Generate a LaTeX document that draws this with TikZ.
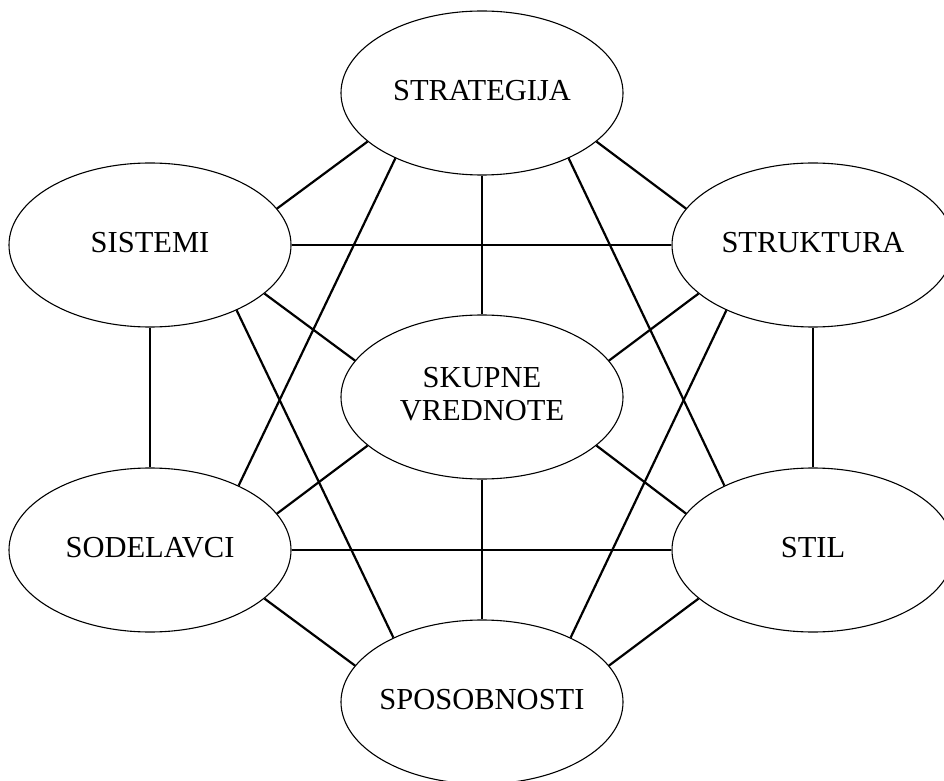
\documentclass[tikz,border=0pt]{standalone}
\usepackage{fontspec}
\setmainfont{Liberation Serif}
\usetikzlibrary{shapes.geometric}
\begin{document}
\begin{tikzpicture}[x=1pt,y=1pt,
  elnode/.style={ellipse, draw, line width=1.1pt, minimum width=282pt, minimum height=164pt, inner ysep=0pt, inner xsep=-25pt, font=\fontsize{30.5}{33}\selectfont, align=center, text depth=6pt},
  conn/.style={line width=2.2pt}]
\useasboundingbox (0,0) rectangle (944,780);
\clip (0,0) rectangle (944,780);
\fill[white] (0,0) rectangle (944,780);
\node[elnode] (strat) at (482,687) {STRATEGIJA};
\node[elnode] (sist) at (150,535) {SISTEMI};
\node[elnode] (struk) at (813,535) {STRUKTURA};
\node[elnode] (skup) at (482,383) {SKUPNE\\VREDNOTE};
\node[elnode] (sod) at (150,230) {SODELAVCI};
\node[elnode] (stil) at (813,230) {STIL};
\node[elnode] (spos) at (482,78) {SPOSOBNOSTI};
\draw[conn] (strat.203) -- (sist.16);
\draw[conn] (strat.337) -- (struk.164);
\draw[conn] (strat.south) -- (skup.north);
\draw[conn] (strat.217) -- (sod.36);
\draw[conn] (strat.323) -- (stil.144);
\draw[conn] (sist.east) -- (struk.west);
\draw[conn] (sist.-23) -- (skup.164);
\draw[conn] (sist.south) -- (sod.north);
\draw[conn] (sist.-37) -- (spos.144);
\draw[conn] (struk.203) -- (skup.16);
\draw[conn] (struk.217) -- (spos.36);
\draw[conn] (struk.south) -- (stil.north);
\draw[conn] (skup.203) -- (sod.16);
\draw[conn] (skup.-23) -- (stil.164);
\draw[conn] (skup.south) -- (spos.north);
\draw[conn] (sod.east) -- (stil.west);
\draw[conn] (sod.-23) -- (spos.164);
\draw[conn] (stil.203) -- (spos.16);
\end{tikzpicture}
\end{document}
